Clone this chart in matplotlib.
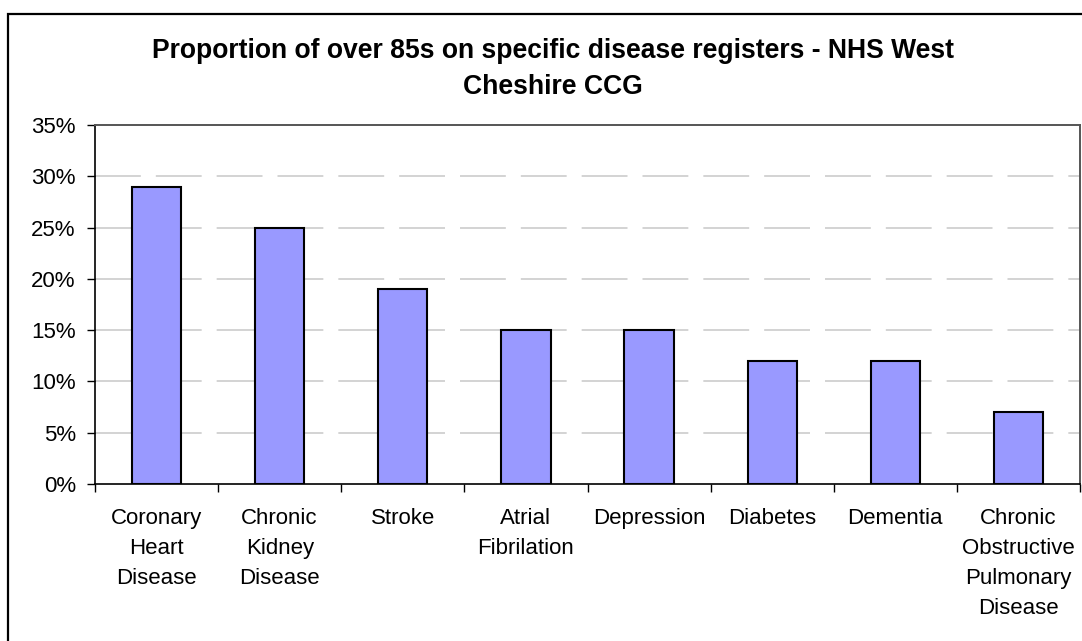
import matplotlib
matplotlib.use("Agg")
import matplotlib.pyplot as plt
from matplotlib.patches import Rectangle
from matplotlib.ticker import FixedLocator, NullFormatter

plt.rcParams["font.family"] = ["Liberation Sans", "DejaVu Sans"]

categories = [
    "Coronary\nHeart\nDisease",
    "Chronic\nKidney\nDisease",
    "Stroke",
    "Atrial\nFibrilation",
    "Depression",
    "Diabetes",
    "Dementia",
    "Chronic\nObstructive\nPulmonary\nDisease",
]
values = [29, 25, 19, 15, 15, 12, 12, 7]
y_ticks = [0, 5, 10, 15, 20, 25, 30, 35]
y_tick_labels = [f"{v}%" for v in y_ticks]
title = "Proportion of over 85s on specific disease registers - NHS West\nCheshire CCG"

W, H = 1082, 641
fig = plt.figure(figsize=(W / 100, H / 100), dpi=100)
fig.patch.set_facecolor("white")

# chart-area frame (runs off the right and bottom edges)
fig.patches.append(Rectangle((8 / W, -0.05), 1.1, (H - 14) / H + 0.05,
                             transform=fig.transFigure, fill=False,
                             edgecolor="black", linewidth=1.6, zorder=0))

ax = fig.add_axes([95 / W, (H - 484) / H, (1080 - 95) / W, (484 - 125) / H])

n = len(categories)
x = list(range(n))
ax.bar(x, values, width=0.4, color="#9999FF", edgecolor="black",
       linewidth=1.5, zorder=3)

ax.set_xlim(-0.5, n - 0.5)
ax.set_ylim(0, 35)

# gridlines
for v in y_ticks[1:-1]:
    ax.axhline(v, color="#cccccc", linewidth=1.2,
               linestyle=(0, (27.5, 9.0)), zorder=1)

ax.set_yticks(y_ticks)
ax.set_yticklabels(y_tick_labels, fontsize=16)
ax.tick_params(axis="y", direction="out", length=5.8, width=1, pad=8,
               color="black")

# category boundaries carry the ticks, centres carry the labels
ax.xaxis.set_major_locator(FixedLocator([i - 0.5 for i in range(n + 1)]))
ax.xaxis.set_major_formatter(NullFormatter())
ax.xaxis.set_minor_locator(FixedLocator(x))
ax.set_xticklabels(categories, minor=True, fontsize=16, linespacing=1.58)
ax.tick_params(axis="x", which="major", direction="out", length=6, width=1,
               color="black")
ax.tick_params(axis="x", which="minor", length=0, pad=17)

for side in ("left", "bottom"):
    ax.spines[side].set_color("black")
    ax.spines[side].set_linewidth(1.2)
for side in ("top", "right"):
    ax.spines[side].set_color("#555555")
    ax.spines[side].set_linewidth(1.4)

fig.text(553 / W, 1 - 69 / H, title, ha="center", va="center",
         fontsize=19.1, fontweight="bold", linespacing=1.45)

fig.savefig("out.png", dpi=100, facecolor="white")
